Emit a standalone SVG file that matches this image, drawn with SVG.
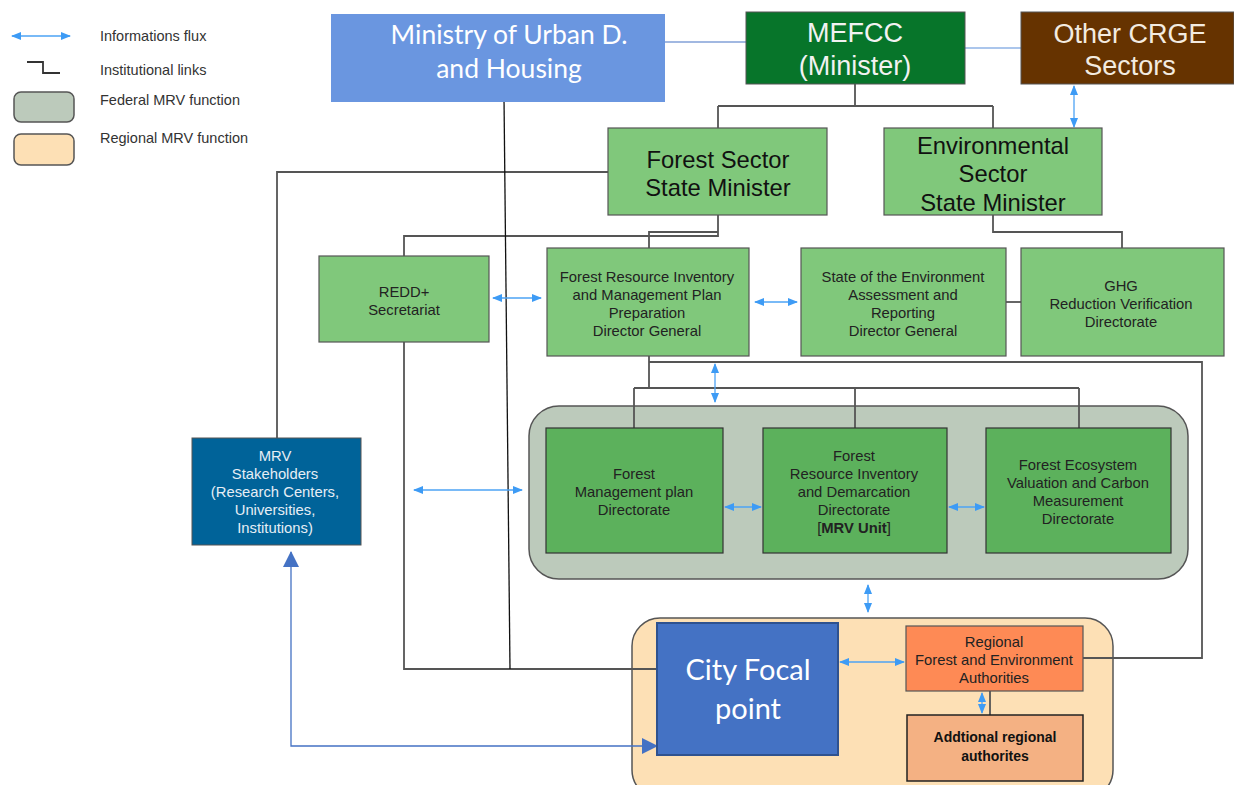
<svg xmlns="http://www.w3.org/2000/svg" width="1234" height="785" viewBox="0 0 1234 785">
<style>
text{font-family:"Liberation Sans",Arial,sans-serif;text-anchor:middle}
.lg{font-size:14.5px;fill:#333;text-anchor:start}
.box{fill:#80c87b;stroke:#555;stroke-width:1.2}
.dir{fill:#5cb15c;stroke:#333;stroke-width:1.2}
.t13{font-size:14.8px;fill:#222}
.t22{font-size:23.8px;fill:#111}
.inst{fill:none;stroke:#555;stroke-width:1.8}
.flux{fill:none;stroke:#4da3f5;stroke-width:1.3;marker-start:url(#fh);marker-end:url(#fh)}
.cal{font-family:Lato,"Open Sans",sans-serif;fill:#fff}
</style>
<defs>
<marker id="fh" markerUnits="userSpaceOnUse" markerWidth="10" markerHeight="10" refX="9" refY="5" orient="auto-start-reverse" viewBox="0 0 10 10">
<path d="M0,1 L10,5 L0,9 z" fill="#3d9bf5"/>
</marker>
<marker id="bh" markerUnits="userSpaceOnUse" markerWidth="16" markerHeight="16" refX="15" refY="8" orient="auto-start-reverse" viewBox="0 0 16 16">
<path d="M0,0 L16,8 L0,16 z" fill="#4472c4"/>
</marker>
</defs>
<rect width="1234" height="785" fill="#fff"/>

<g id="legend">
<line x1="12" y1="36" x2="70" y2="36" class="flux"/>
<text x="100" y="41" class="lg">Informations flux</text>
<path d="M27,62 H43 V73 H60" fill="none" stroke="#333" stroke-width="1.8"/>
<text x="100" y="75" class="lg">Institutional links</text>
<rect x="14" y="92" width="60" height="30" rx="7" fill="#bccabb" stroke="#555" stroke-width="1.5"/>
<text x="100" y="105" class="lg">Federal MRV function</text>
<rect x="14" y="134" width="60" height="31" rx="7" fill="#fde0b5" stroke="#555" stroke-width="1.5"/>
<text x="100" y="143" class="lg">Regional MRV function</text>
</g>

<g id="groups">
<rect id="federal-group" x="529" y="406" width="659" height="173" rx="30" fill="#bccabb" stroke="#555" stroke-width="1.5"/>
<rect id="regional-group" x="632" y="618" width="481" height="180" rx="28" fill="#fde0b5" stroke="#555" stroke-width="1.5"/>
</g>

<g id="connectors">
<line x1="665" y1="42" x2="759" y2="42" stroke="#4472c4" stroke-width="1.2"/>
<line x1="965" y1="48" x2="1021" y2="48" stroke="#8fb3e6" stroke-width="1.5"/>
<path class="inst" d="M855,84 V106 M718,106 H993 M718,106 V128 M993,106 V128"/>
<path class="inst" d="M608,172 H277 V438"/>
<path class="inst" d="M718,215 V236 H404 V256 M718,232 H649 V248"/>
<path class="inst" d="M993,215 V232 H1122 V248"/>
<path class="inst" d="M1006,302 H1021"/>
<path class="inst" d="M404,342 V669 H657"/>
<path class="inst" d="M649,356 V388 M649,362 H1202 V658 H1083 M634,388 H1079 M634,388 V428 M855,388 V428 M1079,388 V428"/>
<path class="inst" d="M990,691 V715"/>
<line x1="504" y1="98" x2="510" y2="669" stroke="#111" stroke-width="1.3"/>
<line x1="1074" y1="86" x2="1074" y2="127" class="flux"/>
<line x1="493" y1="298" x2="541" y2="298" class="flux"/>
<line x1="755" y1="302" x2="797" y2="302" class="flux"/>
<line x1="715" y1="364" x2="715" y2="402" class="flux"/>
<line x1="414" y1="490" x2="522" y2="490" class="flux"/>
<line x1="725" y1="507" x2="761" y2="507" class="flux"/>
<line x1="949" y1="507" x2="984" y2="507" class="flux"/>
<line x1="868" y1="585" x2="868" y2="612" class="flux"/>
<line x1="840" y1="662" x2="904" y2="662" class="flux"/>
<line x1="982" y1="693" x2="982" y2="713" class="flux"/>
<path d="M657,746 H291 V552" fill="none" stroke="#4472c4" stroke-width="1.3" marker-start="url(#bh)" marker-end="url(#bh)"/>
</g>

<g id="ministry-urban">
<rect x="331" y="14" width="334" height="88" fill="#6a96e0"/>
<text x="509" y="44" class="cal" font-size="26.5">Ministry of Urban D.</text>
<text x="509" y="78" class="cal" font-size="26.5">and Housing</text>
</g>

<g id="mefcc">
<rect x="746" y="12" width="219" height="72" fill="#07752a" stroke="#555" stroke-width="1"/>
<text x="855" y="42" font-size="27" fill="#f2f2f2">MEFCC</text>
<text x="855" y="75" font-size="27" fill="#f2f2f2">(Minister)</text>
</g>

<g id="other-crge">
<rect x="1021" y="12" width="213" height="72" fill="#663300" stroke="#555" stroke-width="1"/>
<text x="1130" y="43" font-size="27" fill="#f3ebe0">Other CRGE</text>
<text x="1130" y="75" font-size="27" fill="#f3ebe0">Sectors</text>
</g>

<g id="forest-sector">
<rect x="608" y="128" width="219" height="87" class="box"/>
<text x="718" y="168" class="t22">Forest Sector</text>
<text x="718" y="196" class="t22">State Minister</text>
</g>

<g id="env-sector">
<rect x="884" y="128" width="218" height="87" class="box"/>
<text x="993" y="154" class="t22">Environmental</text>
<text x="993" y="182" class="t22">Sector</text>
<text x="993" y="211" class="t22">State Minister</text>
</g>

<g id="redd">
<rect x="319" y="256" width="170" height="86" class="box"/>
<text x="404" y="297" class="t13">REDD+</text>
<text x="404" y="315" class="t13">Secretariat</text>
</g>

<g id="fri-dg">
<rect x="547" y="248" width="202" height="108" class="box"/>
<text x="647" y="282" class="t13">Forest Resource Inventory</text>
<text x="647" y="300" class="t13">and Management Plan</text>
<text x="647" y="318" class="t13">Preparation</text>
<text x="647" y="336" class="t13">Director General</text>
</g>

<g id="soe-dg">
<rect x="801" y="248" width="205" height="108" class="box"/>
<text x="903" y="282" class="t13">State of the Environment</text>
<text x="903" y="300" class="t13">Assessment and</text>
<text x="903" y="318" class="t13">Reporting</text>
<text x="903" y="336" class="t13">Director General</text>
</g>

<g id="ghg">
<rect x="1021" y="248" width="203" height="108" class="box"/>
<text x="1121" y="291" class="t13">GHG</text>
<text x="1121" y="309" class="t13">Reduction Verification</text>
<text x="1121" y="327" class="t13">Directorate</text>
</g>

<g id="forest-mgmt">
<rect x="546" y="428" width="177" height="125" class="dir"/>
<text x="634" y="479" class="t13">Forest</text>
<text x="634" y="497" class="t13">Management plan</text>
<text x="634" y="515" class="t13">Directorate</text>
</g>

<g id="frid">
<rect x="763" y="428" width="184" height="125" class="dir"/>
<text x="854" y="461" class="t13">Forest</text>
<text x="854" y="479" class="t13">Resource Inventory</text>
<text x="854" y="497" class="t13">and Demarcation</text>
<text x="854" y="515" class="t13">Directorate</text>
<text x="854" y="533" class="t13">[<tspan font-weight="bold">MRV Unit</tspan>]</text>
</g>

<g id="fev">
<rect x="986" y="428" width="185" height="125" class="dir"/>
<text x="1078" y="470" class="t13">Forest Ecosystem</text>
<text x="1078" y="488" class="t13">Valuation and Carbon</text>
<text x="1078" y="506" class="t13">Measurement</text>
<text x="1078" y="524" class="t13">Directorate</text>
</g>

<g id="mrv-stakeholders">
<rect x="192" y="438" width="169" height="107" fill="#006399" stroke="#555" stroke-width="1"/>
<text x="275" y="461" class="t13" style="fill:#e6eef5">MRV</text>
<text x="275" y="479" class="t13" style="fill:#e6eef5">Stakeholders</text>
<text x="275" y="497" class="t13" style="fill:#e6eef5">(Research Centers,</text>
<text x="275" y="515" class="t13" style="fill:#e6eef5">Universities,</text>
<text x="275" y="533" class="t13" style="fill:#e6eef5">Institutions)</text>
</g>

<g id="city-focal">
<rect x="657" y="623" width="181" height="132" fill="#4472c4" stroke="#2f528f" stroke-width="2"/>
<text x="748" y="680" class="cal" font-size="29">City Focal</text>
<text x="748" y="719" class="cal" font-size="29">point</text>
</g>

<g id="regional-auth">
<rect x="906" y="626" width="177" height="65" fill="#fe8a55" stroke="#555" stroke-width="1.2"/>
<text x="994" y="647" class="t13">Regional</text>
<text x="994" y="665" class="t13">Forest and Environment</text>
<text x="994" y="683" class="t13">Authorities</text>
</g>

<g id="additional-regional">
<rect x="907" y="715" width="176" height="66" fill="#f4b183" stroke="#222" stroke-width="1.5"/>
<text x="995" y="742" font-family="Lato,sans-serif" font-weight="bold" font-size="14" fill="#111">Addtional regional</text>
<text x="995" y="761" font-family="Lato,sans-serif" font-weight="bold" font-size="14" fill="#111">authorites</text>
</g>
</svg>
